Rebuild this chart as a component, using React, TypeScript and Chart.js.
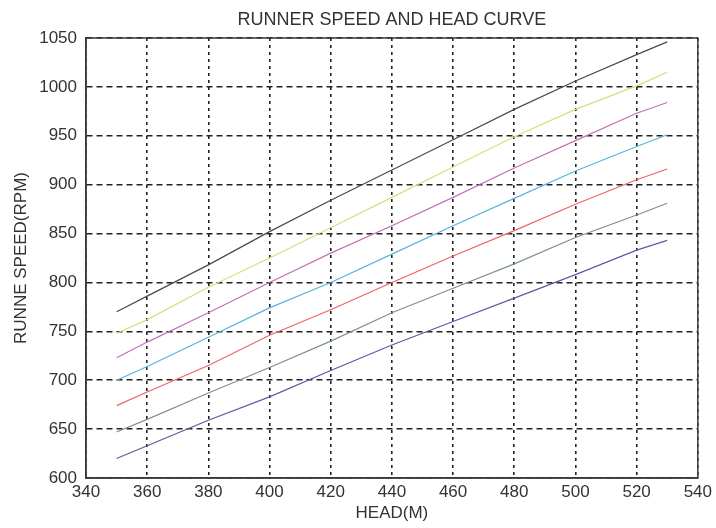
import React, { useEffect, useRef } from "react";
import { Chart, registerables } from "chart.js";

Chart.register(...registerables);

const heads = [350, 360, 380, 400, 420, 440, 460, 480, 500, 520, 530];
const speedK = [770, 786, 818, 852, 884, 915, 946, 977, 1006, 1033, 1046];
const speedY = [748, 762, 795, 825, 856, 887, 918, 949, 977, 1001, 1015];
const speedM = [723, 739, 769, 800, 830, 858, 887, 917, 945, 973, 984];
const speedC = [700, 714, 744, 774, 800, 829, 858, 886, 914, 939, 951];
const speedR = [674, 688, 715, 746, 772, 800, 827, 853, 880, 905, 916];
const speedG = [647, 660, 687, 713, 740, 769, 794, 819, 846, 869, 881];
const speedB = [620, 633, 659, 683, 710, 736, 760, 784, 808, 833, 843];

const seriesList = [
  { name: "k", values: speedK, color: "#4a4a4a" },
  { name: "y", values: speedY, color: "#dcdc78" },
  { name: "m", values: speedM, color: "#c470b4" },
  { name: "c", values: speedC, color: "#58b4e0" },
  { name: "r", values: speedR, color: "#f06464" },
  { name: "g", values: speedG, color: "#7c967c" },
  { name: "b", values: speedB, color: "#5a5aa6" },
];

const FONT = "'Liberation Sans', Arial, sans-serif";

const boxPlugin = {
  id: "boxPlugin",
  afterDatasetsDraw(chart: any) {
    const { ctx, chartArea } = chart;
    ctx.save();
    ctx.strokeStyle = "#3a3a3a";
    ctx.lineWidth = 1.5;
    ctx.setLineDash([]);
    ctx.strokeRect(chartArea.left, chartArea.top, chartArea.right - chartArea.left, chartArea.bottom - chartArea.top);
    ctx.restore();
  },
};

export default function App() {
  const ref = useRef<HTMLCanvasElement | null>(null);
  useEffect(() => {
    if (!ref.current) return;
    const chart = new Chart(ref.current, {
      type: "line",
      data: {
        datasets: seriesList.map((s) => ({
          label: s.name,
          data: heads.map((h, i) => ({ x: h, y: s.values[i] })),
          borderColor: s.color,
          backgroundColor: s.color,
          borderWidth: 1.2,
          pointRadius: 0,
          tension: 0,
          fill: false,
        })),
      },
      options: {
        responsive: false,
        animation: false,
        devicePixelRatio: 1,
        layout: { padding: { left: 0, right: 18, top: 0, bottom: 0 } },
        plugins: {
          legend: { display: false },
          tooltip: { enabled: false },
          title: {
            display: true,
            fullSize: false,
            text: "RUNNER SPEED AND HEAD CURVE",
            color: "#333",
            font: { family: FONT, size: 18, weight: "normal" },
            padding: { top: 9, bottom: 7.4 },
          },
        },
        scales: {
          x: {
            type: "linear",
            min: 340,
            max: 540,
            afterFit: (scale: any) => {
              scale.height = 50;
            },
            ticks: {
              stepSize: 20,
              color: "#333",
              padding: 4,
              font: { family: FONT, size: 17 },
              maxRotation: 0,
              callback: (v: any) => String(v),
            },
            grid: {
              color: "#222",
              lineWidth: 1.6,
              drawTicks: false,
            },
            border: { display: true, color: "#3a3a3a", width: 1.5, dash: [3, 4] },
            title: {
              display: true,
              text: "HEAD(M)",
              color: "#333",
              font: { family: FONT, size: 17 },
              padding: { top: 4, bottom: 4 },
            },
          },
          y: {
            type: "linear",
            min: 600,
            max: 1050,
            afterFit: (scale: any) => {
              scale.width = 86;
            },
            ticks: {
              stepSize: 50,
              color: "#333",
              padding: 9,
              font: { family: FONT, size: 17 },
              callback: (v: any) => String(v),
            },
            grid: {
              color: "#222",
              lineWidth: 1.6,
              drawTicks: false,
            },
            border: { display: true, color: "#3a3a3a", width: 1.5, dash: [6, 4] },
            title: {
              display: true,
              text: "RUNNE SPEED(RPM)",
              color: "#333",
              font: { family: FONT, size: 17 },
              padding: { top: 11, bottom: 11 },
            },
          },
        },
      },
      plugins: [boxPlugin],
    } as any);
    return () => chart.destroy();
  }, []);
  return (
    <div style={{ position: "fixed", left: 0, top: 0, width: 716, height: 528, background: "#fff" }}>
      <canvas ref={ref} width={716} height={528} style={{ display: "block" }} />
    </div>
  );
}
